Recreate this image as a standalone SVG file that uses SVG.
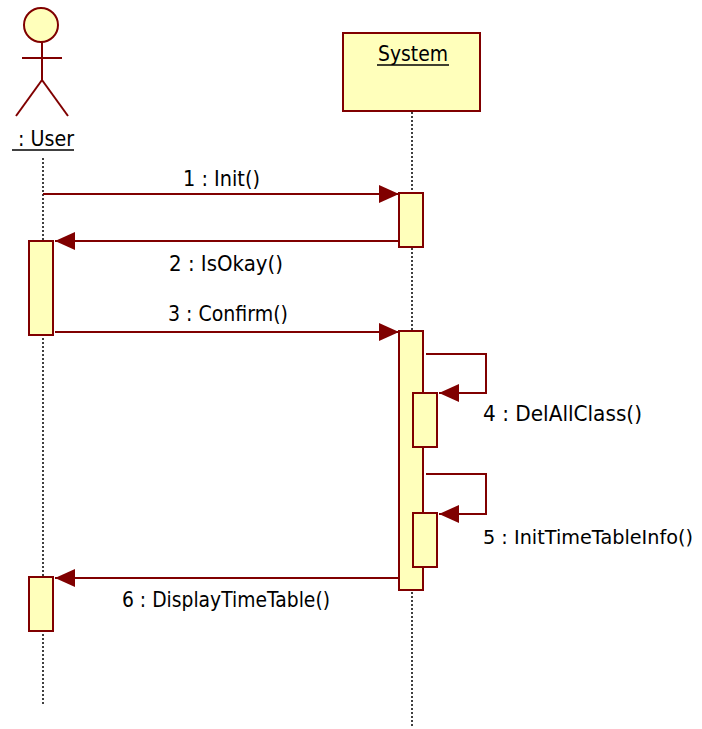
<svg xmlns="http://www.w3.org/2000/svg" width="702" height="729" viewBox="0 0 702 729">
<style>
.box{fill:#FFFFBB;stroke:#800000;stroke-width:2}
.life{stroke:#000;stroke-width:1.5;stroke-dasharray:2 2;fill:none}
.msg{stroke:#800000;stroke-width:2;fill:none}
.lbl{font-family:"DejaVu Sans","Liberation Sans",sans-serif;font-size:21px;fill:#000}
.ul{stroke:#000;stroke-width:1.5}
</style>
<defs>
<marker id="arr" markerUnits="userSpaceOnUse" markerWidth="21" markerHeight="19" refX="20" refY="9" orient="auto" viewBox="0 0 21 19">
<path d="M0,0 L20,9 L0,18 z" fill="#800000"/>
</marker>
</defs>
<rect width="702" height="729" fill="#fff"/>
<g id="lifelines">
<line class="life" x1="43" y1="158" x2="43" y2="705"/>
<line class="life" x1="412" y1="112" x2="412" y2="728"/>
</g>
<g id="user">
<circle cx="41" cy="25" r="17" class="box"/>
<line class="msg" x1="42" y1="42" x2="42" y2="80"/>
<line class="msg" x1="22" y1="58" x2="62" y2="58"/>
<line class="msg" x1="42" y1="80" x2="16" y2="116"/>
<line class="msg" x1="42" y1="80" x2="68" y2="116"/>
<text class="lbl" x="18" y="146" textLength="56" lengthAdjust="spacingAndGlyphs">: User</text>
<line class="ul" x1="12" y1="150" x2="74" y2="150"/>
</g>
<g id="system">
<rect class="box" x="343" y="33" width="137" height="78"/>
<text class="lbl" x="378" y="61" textLength="70" lengthAdjust="spacingAndGlyphs">System</text>
<line class="ul" x1="377" y1="65" x2="449" y2="65"/>
</g>
<g id="activations">
<rect class="box" x="399" y="193" width="24" height="54"/>
<rect class="box" x="29" y="241" width="24" height="94"/>
<rect class="box" x="399" y="331" width="24" height="259"/>
<rect class="box" x="413" y="393" width="24" height="54"/>
<rect class="box" x="413" y="513" width="24" height="54"/>
<rect class="box" x="29" y="577" width="24" height="54"/>
</g>
<g id="connectors">
<line class="msg" x1="43" y1="194" x2="399" y2="194" marker-end="url(#arr)"/>
<line class="msg" x1="399" y1="241" x2="55" y2="241" marker-end="url(#arr)"/>
<line class="msg" x1="55" y1="332" x2="399" y2="332" marker-end="url(#arr)"/>
<path class="msg" d="M426,354 H486 V393 H439" marker-end="url(#arr)"/>
<path class="msg" d="M426,474 H486 V514 H439" marker-end="url(#arr)"/>
<line class="msg" x1="399" y1="578" x2="55" y2="578" marker-end="url(#arr)"/>
</g>
<g id="labels">
<text class="lbl" x="183" y="186" textLength="77" lengthAdjust="spacingAndGlyphs">1 : Init()</text>
<text class="lbl" x="169" y="271" textLength="114" lengthAdjust="spacingAndGlyphs">2 : IsOkay()</text>
<text class="lbl" x="168" y="321" textLength="120" lengthAdjust="spacingAndGlyphs">3 : Confirm()</text>
<text class="lbl" x="483" y="421" textLength="159" lengthAdjust="spacingAndGlyphs">4 : DelAllClass()</text>
<text class="lbl" x="483" y="544" style="font-size:19px" textLength="210" lengthAdjust="spacingAndGlyphs">5 : InitTimeTableInfo()</text>
<text class="lbl" x="122" y="607" textLength="208" lengthAdjust="spacingAndGlyphs">6 : DisplayTimeTable()</text>
</g>
</svg>
